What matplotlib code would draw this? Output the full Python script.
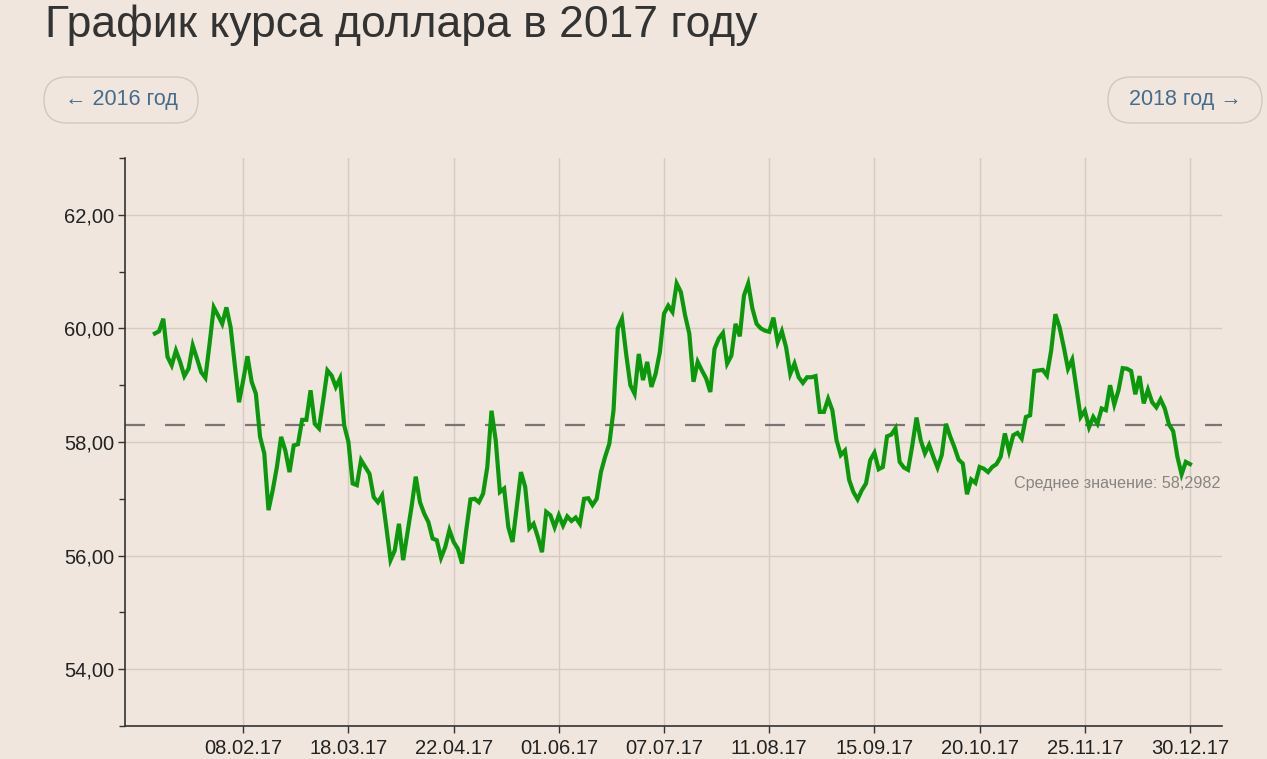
import numpy as np
import matplotlib; matplotlib.use("Agg")
import matplotlib.pyplot as plt
from matplotlib.patches import FancyBboxPatch
from matplotlib.ticker import FuncFormatter, MultipleLocator

# USD/RUB official rate, 2017, one value per trading day
rate = [59.91, 59.95, 60.17, 59.50, 59.35, 59.61, 59.41, 59.16, 59.29, 59.70,
        59.47, 59.23, 59.13, 59.73, 60.37, 60.23, 60.08, 60.37, 60.02, 59.35,
        58.70, 59.09, 59.51, 59.06, 58.85, 58.09, 57.80, 56.80, 57.15, 57.56,
        58.09, 57.85, 57.47, 57.94, 57.96, 58.39, 58.39, 58.91, 58.32, 58.24,
        58.73, 59.26, 59.17, 58.97, 59.12, 58.29, 58.00, 57.27, 57.24, 57.68,
        57.56, 57.44, 57.03, 56.94, 57.06, 56.50, 55.92, 56.09, 56.56, 55.92,
        56.39, 56.86, 57.39, 56.94, 56.74, 56.59, 56.30, 56.27, 55.96, 56.15,
        56.45, 56.24, 56.12, 55.86, 56.45, 56.99, 57.00, 56.94, 57.09, 57.56,
        58.55, 58.03, 57.12, 57.18, 56.50, 56.24, 56.86, 57.47, 57.21, 56.48,
        56.56, 56.33, 56.06, 56.77, 56.71, 56.50, 56.71, 56.53, 56.69, 56.61,
        56.67, 56.56, 57.00, 57.01, 56.89, 57.00, 57.47, 57.74, 57.97, 58.56,
        60.00, 60.17, 59.55, 59.00, 58.85, 59.55, 59.09, 59.41, 58.97, 59.20,
        59.58, 60.26, 60.40, 60.29, 60.79, 60.64, 60.23, 59.91, 59.06, 59.41,
        59.26, 59.12, 58.88, 59.64, 59.82, 59.92, 59.38, 59.52, 60.08, 59.86,
        60.58, 60.79, 60.35, 60.08, 60.00, 59.96, 59.94, 60.19, 59.76, 59.95,
        59.67, 59.20, 59.38, 59.14, 59.04, 59.14, 59.14, 59.16, 58.53, 58.53,
        58.76, 58.56, 58.03, 57.77, 57.85, 57.33, 57.12, 56.99, 57.15, 57.27,
        57.68, 57.81, 57.52, 57.56, 58.10, 58.13, 58.24, 57.65, 57.55, 57.51,
        57.94, 58.43, 58.03, 57.80, 57.95, 57.74, 57.55, 57.77, 58.32, 58.10,
        57.91, 57.69, 57.62, 57.08, 57.34, 57.28, 57.56, 57.53, 57.47, 57.56,
        57.61, 57.74, 58.15, 57.84, 58.12, 58.16, 58.06, 58.44, 58.47, 59.25,
        59.26, 59.27, 59.17, 59.61, 60.25, 60.02, 59.67, 59.29, 59.45, 58.94,
        58.44, 58.55, 58.26, 58.44, 58.32, 58.59, 58.56, 59.00, 58.66, 58.91,
        59.30, 59.29, 59.25, 58.84, 59.16, 58.68, 58.92, 58.70, 58.61, 58.75,
        58.59, 58.31, 58.19, 57.74, 57.43, 57.65, 57.61]
avg = 58.2982
date_labels = ["08.02.17", "18.03.17", "22.04.17", "01.06.17", "07.07.17",
               "11.08.17", "15.09.17", "20.10.17", "25.11.17", "30.12.17"]
date_idx = [21, 46, 71, 96, 121, 146, 171, 196, 221, 246]

BG = "#f0e6dd"
plt.rcParams.update({"font.family": ["Liberation Sans", "DejaVu Sans"]})
fig = plt.figure(figsize=(12.67, 7.59), dpi=100, facecolor=BG)
ax = fig.add_axes([125/1267, 1-726/759, (1222-125)/1267, (726-158)/759], facecolor=BG)

x = np.arange(len(rate))
ax.plot(x, rate, color="#0a990a", lw=3.0, solid_joinstyle="miter", zorder=3)
ax.axhline(avg, color="#7a7472", lw=1.6, dashes=(9, 9), zorder=2)
ax.text(253.3, avg - 1.03, f"Среднее значение: {str(avg).replace('.', ',')}",
        ha="right", va="center", fontsize=11.6, color="#8a8480")

ax.set_xlim(-7.1, 253.6)
ax.set_ylim(53, 63)
ax.yaxis.set_major_locator(MultipleLocator(2))
ax.yaxis.set_minor_locator(MultipleLocator(1))
ax.yaxis.set_major_formatter(FuncFormatter(lambda v, p: f"{v:.2f}".replace(".", ",")))
ax.set_xticks(date_idx)
ax.set_xticklabels(date_labels)
ax.grid(True, which="major", color="#d6cbc1", lw=1.0, zorder=0)
ax.tick_params(axis="both", which="major", length=5, width=1, color="#333333",
               labelsize=14.5, labelcolor="#222222")
ax.tick_params(axis="y", which="minor", length=4, width=1, color="#333333")
ax.tick_params(axis="x", pad=4)
ax.tick_params(axis="y", pad=3)
for s in ("top", "right"):
    ax.spines[s].set_visible(False)
for s in ("left", "bottom"):
    ax.spines[s].set_color("#333333"); ax.spines[s].set_linewidth(1.2)

# header and year buttons (pixel coordinates, origin bottom-left)
fig.text(45/1267, 1-25/759, "График курса доллара в 2017 году", fontsize=32,
         color="#333333", ha="left", va="center")
for (x0, label) in [(44, "← 2016 год"), (1108, "2018 год →")]:
    box = FancyBboxPatch((x0 + 23, 759 - 123 + 23), 154 - 46, 0,
                         boxstyle="round,pad=23,rounding_size=23",
                         transform=None, fc=BG, ec="#d3c8bd", lw=1.0)
    fig.patches.append(box)
    fig.text((x0 + 77)/1267, 1-100/759, label, fontsize=15.5, color="#466c8c",
             ha="center", va="center")

fig.savefig("out.png", dpi=100, facecolor=BG)
